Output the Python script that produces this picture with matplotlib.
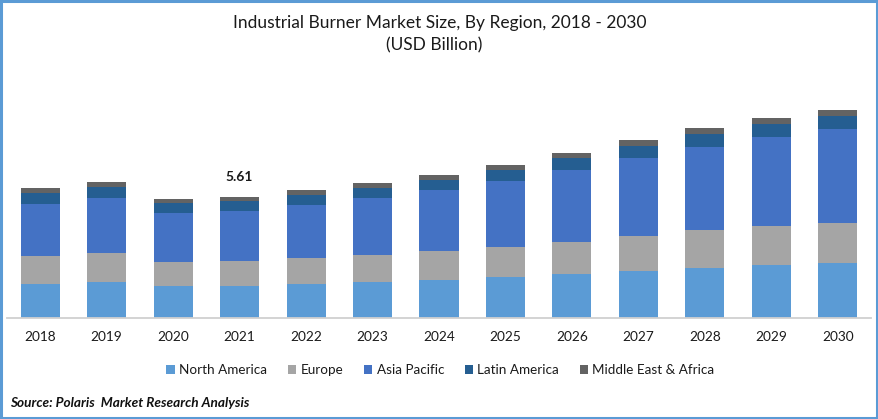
import matplotlib
matplotlib.use('Agg')
import matplotlib.pyplot as plt
import numpy as np
from matplotlib.patches import Rectangle

# 데이터 (USD Billion)
years = ['2018', '2019', '2020', '2021', '2022', '2023', '2024', '2025', '2026', '2027', '2028', '2029', '2030']
north_america = [1.58, 1.67, 1.48, 1.48, 1.58, 1.67, 1.76, 1.90, 2.04, 2.18, 2.32, 2.46, 2.55]
europe = [1.30, 1.34, 1.11, 1.16, 1.21, 1.25, 1.34, 1.39, 1.48, 1.62, 1.76, 1.81, 1.85]
asia_pacific = [2.41, 2.55, 2.27, 2.32, 2.46, 2.64, 2.83, 3.06, 3.34, 3.62, 3.85, 4.13, 4.36]
latin_america = [0.51, 0.51, 0.46, 0.46, 0.46, 0.46, 0.46, 0.51, 0.56, 0.56, 0.60, 0.60, 0.60]
middle_east_africa = [0.23, 0.23, 0.19, 0.19, 0.23, 0.23, 0.23, 0.23, 0.23, 0.28, 0.28, 0.28, 0.28]

regions = ['North America', 'Europe', 'Asia Pacific', 'Latin America', 'Middle East & Africa']
series = [north_america, europe, asia_pacific, latin_america, middle_east_africa]
colors = ['#5b9bd5', '#a5a5a5', '#4472c4', '#255e91', '#636363']

W, H = 879, 419
plt.rcParams['font.family'] = ['Lato', 'DejaVu Sans']
text_color = '#1a1a1a'

fig = plt.figure(figsize=(W / 100, H / 100), dpi=100, facecolor='white')
# 축 위치: 기준선 y=318px, 1 단위 = 21.57px
ax = fig.add_axes([7 / W, (H - 318) / H, 864 / W, 230 / H])

bottom = np.zeros(len(years))
x = np.arange(len(years))
handles = []
for values, color, name in zip(series, colors, regions):
    b = ax.bar(x, values, 0.587, bottom=bottom, color=color, label=name, linewidth=0)
    handles.append(b)
    bottom += np.array(values)

ax.set_xlim(-0.5, 12.5)
ax.set_ylim(0, 230 / 21.57)
ax.set_yticks([])
ax.set_xticks(x)
ax.set_xticklabels(years, fontsize=9.8, color=text_color)
ax.tick_params(axis='x', length=0, pad=9)
for side in ['top', 'left', 'right']:
    ax.spines[side].set_visible(False)
ax.spines['bottom'].set_color('#d0d0d0')
ax.spines['bottom'].set_linewidth(1.3)

# 2021년 합계 라벨
ax.text(3, bottom[3] + 0.66, '5.61', ha='center', va='bottom', fontsize=10,
        fontweight='bold', color=text_color)

fig.text(439.5 / W, 1 - 23 / H, 'Industrial Burner Market Size, By Region, 2018 - 2030',
         ha='center', va='center', fontsize=12.55, color=text_color)
fig.text(434 / W, 1 - 45.5 / H, '(USD Billion)', ha='center', va='center', fontsize=12.55, color=text_color)

fig.legend(handles=handles, loc='center', bbox_to_anchor=(440.5 / W, 1 - 370 / H), ncol=5, frameon=False,
           fontsize=9.7, labelcolor=text_color, handlelength=0.6, handleheight=0.6,
           handletextpad=0.35, columnspacing=1.52, borderpad=0, borderaxespad=0)

fig.text(10 / W, 1 - 403 / H, 'Source: Polaris  Market Research Analysis', ha='left', va='center',
         fontsize=9.8, fontweight='bold', style='italic', color='#111111')

# 바깥 파란 테두리
fig.add_artist(Rectangle((1.5 / W, 1.5 / H), (W - 3) / W, (H - 3) / H, transform=fig.transFigure,
                         fill=False, edgecolor='#5b9bd5', linewidth=2.2))

fig.savefig('out.png', dpi=100)
